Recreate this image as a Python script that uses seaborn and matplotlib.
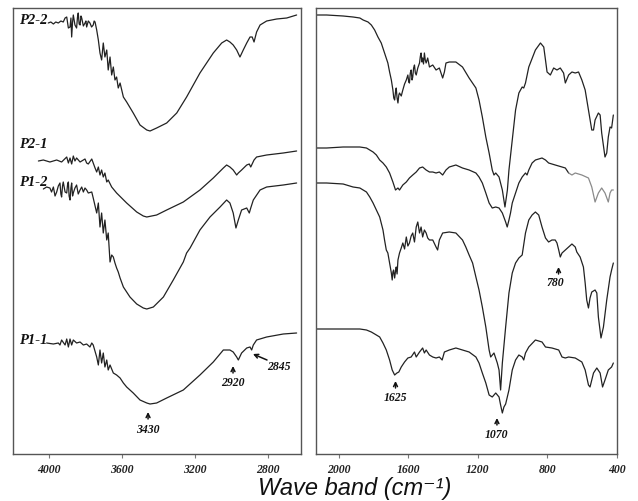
import matplotlib
matplotlib.use("Agg")
import matplotlib.pyplot as plt
import seaborn as sns
import pandas as pd

# ---------------- data (wavenumber cm-1, relative transmittance, arbitrary units) -------------
left_p22_wn = [4004, 3990, 3976, 3963, 3949, 3935, 3922, 3912, 3903, 3894, 3885, 3880, 3876, 3871, 3867,
               3858, 3849, 3844, 3840, 3835, 3830, 3825, 3821, 3812, 3803, 3798, 3794, 3785, 3776, 3767,
               3758, 3753, 3748, 3739, 3730, 3721, 3712, 3703, 3694, 3684, 3676, 3666, 3657, 3648, 3639,
               3630, 3621, 3611, 3593, 3575, 3539, 3502, 3465, 3447, 3411, 3356, 3301, 3247, 3174, 3101,
               3055, 3028, 3010, 2992, 2973, 2955, 2937, 2918, 2900, 2888, 2878, 2864, 2845, 2809, 2754,
               2699, 2645]
left_p22_t = [431, 432, 430, 432, 431, 433, 432, 436, 437, 426, 427, 436, 417, 432, 439,
              429, 426, 437, 441, 430, 429, 438, 436, 428, 431, 433, 427, 433, 431, 427,
              429, 433, 432, 424, 414, 401, 394, 411, 397, 404, 384, 397, 379, 387, 374,
              377, 366, 371, 357, 352, 341, 329, 324, 323, 326, 331, 341, 357, 381, 401,
              411, 414, 412, 409, 404, 397, 404, 411, 417, 417, 412, 422, 429, 433, 435,
              436, 439]

left_p21_wn = [4058, 4031, 3995, 3958, 3931, 3903, 3894, 3885, 3876, 3867, 3858, 3849, 3830, 3803, 3794,
               3785, 3766, 3748, 3739, 3730, 3721, 3712, 3703, 3694, 3684, 3676, 3657, 3630, 3575, 3520,
               3484, 3465, 3411, 3356, 3265, 3174, 3101, 3046, 3028, 3010, 2992, 2973, 2964, 2946, 2918,
               2904, 2896, 2878, 2864, 2809, 2718, 2645]
left_p21_t = [293, 294, 292, 294, 292, 297, 291, 296, 290, 298, 293, 296, 292, 295, 291,
              290, 295, 286, 282, 287, 279, 284, 277, 281, 272, 274, 267, 261, 251, 242,
              238, 237, 239, 244, 252, 264, 276, 286, 289, 287, 284, 279, 281, 284, 289,
              290, 287, 294, 297, 299, 301, 303]

left_p12_wn = [4031, 4013, 3995, 3986, 3976, 3967, 3958, 3949, 3940, 3935, 3931, 3926, 3922, 3912, 3903,
               3898, 3894, 3890, 3885, 3880, 3876, 3871, 3867, 3858, 3849, 3840, 3830, 3821, 3812, 3803,
               3794, 3785, 3766, 3758, 3739, 3730, 3721, 3712, 3703, 3694, 3684, 3676, 3666, 3657, 3648,
               3639, 3630, 3621, 3611, 3593, 3557, 3520, 3484, 3465, 3429, 3374, 3320, 3265, 3247, 3228,
               3174, 3119, 3064, 3028, 3010, 2992, 2977, 2964, 2946, 2918, 2904, 2896, 2882, 2845, 2809,
               2718, 2645]
left_p12_t = [265, 267, 266, 262, 267, 258, 262, 268, 271, 260, 257, 268, 272, 262, 261,
              270, 272, 258, 254, 266, 271, 258, 261, 266, 269, 260, 264, 267, 262, 266,
              264, 261, 262, 256, 241, 251, 227, 241, 221, 234, 214, 221, 192, 199, 197,
              191, 186, 182, 176, 167, 157, 150, 146, 145, 147, 157, 174, 192, 201, 206,
              224, 237, 247, 254, 251, 241, 226, 234, 244, 246, 241, 246, 254, 264, 267,
              269, 271]

left_p11_wn = [4013, 3976, 3949, 3940, 3931, 3912, 3903, 3894, 3885, 3876, 3867, 3849, 3830, 3812, 3794,
               3776, 3766, 3758, 3739, 3730, 3721, 3712, 3703, 3694, 3684, 3676, 3666, 3648, 3630, 3611,
               3593, 3575, 3539, 3502, 3465, 3447, 3411, 3356, 3265, 3174, 3101, 3046, 3010, 2992, 2973,
               2964, 2946, 2918, 2900, 2891, 2882, 2864, 2809, 2718, 2645]
left_p11_t = [111, 110, 111, 109, 114, 109, 115, 107, 115, 109, 114, 111, 112, 109, 110,
              107, 111, 109, 97, 89, 104, 91, 101, 87, 94, 84, 89, 81, 79, 76,
              71, 67, 61, 54, 51, 50, 51, 56, 64, 79, 92, 104, 104, 102, 97,
              94, 101, 106, 107, 104, 109, 114, 117, 120, 121]

right_p22_wn = [2126, 2069, 1974, 1917, 1878, 1859, 1831, 1812, 1793, 1774, 1755, 1736, 1717, 1707, 1697,
                1688, 1683, 1678, 1673, 1669, 1664, 1659, 1654, 1650, 1640, 1631, 1621, 1611, 1602, 1597,
                1593, 1588, 1583, 1578, 1574, 1569, 1564, 1559, 1554, 1545, 1535, 1530, 1526, 1521, 1517,
                1512, 1507, 1502, 1497, 1488, 1478, 1459, 1440, 1421, 1402, 1392, 1383, 1364, 1326, 1288,
                1250, 1211, 1193, 1174, 1154, 1135, 1117, 1107, 1097, 1078, 1059, 1044, 1030, 1021, 1002,
                983, 964, 945, 936, 926, 907, 869, 840, 821, 811, 802, 783, 764, 745, 726,
                707, 697, 678, 659, 640, 621, 602, 583, 564, 545, 535, 526, 507, 497, 488,
                469, 459, 450, 440, 431, 421]
right_p22_t = [439, 439, 438, 437, 436, 434, 432, 429, 424, 417, 411, 401, 391, 382, 374,
               364, 356, 354, 362, 366, 356, 351, 359, 361, 358, 364, 370, 374, 379, 372,
               371, 381, 384, 374, 377, 386, 389, 381, 379, 386, 391, 398, 401, 392, 396,
               390, 401, 394, 391, 396, 387, 389, 384, 386, 376, 382, 391, 392, 392, 387,
               376, 366, 354, 337, 317, 301, 284, 279, 281, 277, 264, 247, 264, 284, 314,
               344, 361, 367, 366, 371, 387, 404, 411, 407, 394, 382, 379, 386, 384, 386,
               381, 371, 379, 382, 381, 382, 374, 364, 344, 324, 324, 334, 341, 339, 321,
               297, 301, 317, 327, 326, 339]

right_p21_wn = [2126, 2069, 1974, 1878, 1840, 1802, 1783, 1764, 1745, 1726, 1707, 1688, 1673, 1659, 1650,
                1631, 1611, 1593, 1574, 1554, 1535, 1517, 1497, 1478, 1459, 1440, 1421, 1402, 1383, 1364,
                1326, 1288, 1250, 1211, 1193, 1174, 1154, 1135, 1117, 1097, 1078, 1059, 1040, 1031, 1021,
                1012, 1002, 983, 964, 945, 926, 917, 907, 888, 869, 831, 811, 793, 755, 716,
                697, 678]
right_p21_t = [306, 306, 307, 307, 306, 302, 299, 294, 291, 287, 281, 272, 264, 266, 264,
               269, 272, 276, 279, 282, 286, 287, 284, 282, 282, 281, 282, 279, 284, 287,
               289, 286, 284, 281, 277, 271, 261, 251, 246, 247, 246, 241, 232, 227, 234,
               241, 251, 261, 271, 277, 281, 279, 284, 291, 294, 296, 294, 291, 289, 287,
               286, 281]
# faint end of the P2-1 trace
right_p21_tail_wn = [678, 659, 640, 602, 564, 545, 526, 507, 488, 469, 450, 440, 431, 421]
right_p21_tail_t = [281, 279, 281, 279, 276, 267, 252, 261, 266, 261, 252, 261, 264, 264]

right_p12_wn = [2126, 2069, 1974, 1917, 1878, 1840, 1821, 1802, 1783, 1764, 1745, 1736, 1726, 1717, 1712,
                1707, 1702, 1697, 1692, 1688, 1684, 1678, 1673, 1669, 1664, 1659, 1650, 1640, 1631, 1621,
                1611, 1602, 1593, 1583, 1574, 1564, 1554, 1545, 1535, 1526, 1517, 1507, 1497, 1488, 1478,
                1459, 1440, 1431, 1421, 1402, 1364, 1326, 1288, 1269, 1250, 1230, 1211, 1193, 1174, 1154,
                1135, 1126, 1107, 1088, 1078, 1069, 1059, 1040, 1021, 1002, 983, 964, 945, 926, 907,
                888, 869, 850, 831, 811, 793, 774, 755, 745, 735, 726, 716, 697, 678, 659,
                640, 631, 612, 593, 583, 574, 564, 555, 545, 526, 516, 507, 492, 478, 459,
                440, 431, 421]
right_p12_t = [271, 271, 270, 267, 266, 262, 257, 251, 244, 237, 224, 214, 204, 201, 196,
               191, 186, 181, 174, 182, 184, 176, 183, 187, 180, 194, 201, 206, 211, 205,
               217, 208, 211, 218, 221, 212, 227, 232, 221, 227, 217, 224, 221, 216, 214,
               214, 207, 204, 214, 221, 222, 221, 214, 207, 199, 191, 177, 164, 147, 127,
               104, 97, 101, 91, 84, 64, 91, 127, 161, 181, 191, 196, 199, 221, 234,
               239, 242, 239, 227, 216, 212, 214, 214, 211, 204, 197, 201, 204, 207, 210,
               207, 202, 197, 187, 171, 154, 146, 156, 162, 164, 161, 137, 116, 127, 154,
               177, 184, 191]

right_p11_wn = [2126, 2069, 1974, 1917, 1878, 1840, 1812, 1783, 1764, 1745, 1726, 1707, 1692, 1678, 1665,
                1654, 1640, 1621, 1602, 1583, 1564, 1554, 1535, 1517, 1507, 1497, 1478, 1459, 1440, 1421,
                1405, 1392, 1364, 1326, 1288, 1250, 1211, 1193, 1174, 1154, 1135, 1117, 1097, 1078, 1069,
                1059, 1050, 1040, 1021, 1002, 983, 964, 945, 936, 926, 907, 869, 831, 811, 774,
                735, 716, 697, 678, 640, 602, 583, 564, 555, 535, 516, 497, 483, 469, 450,
                431, 421]
right_p11_t = [125, 125, 125, 125, 125, 124, 122, 119, 117, 111, 104, 94, 84, 79, 81,
               82, 87, 92, 96, 97, 102, 97, 102, 106, 101, 104, 99, 97, 96, 97,
               94, 102, 104, 106, 104, 102, 97, 91, 81, 71, 59, 57, 61, 57, 49,
               41, 47, 50, 64, 84, 94, 99, 97, 94, 101, 107, 114, 112, 107, 106,
               104, 97, 96, 97, 96, 92, 84, 69, 67, 81, 86, 81, 67, 74, 84,
               87, 91]

sample_names = ["P2-2", "P2-1", "P1-2", "P1-1"]
sample_label_t = [433, 309, 272, 114]

left_ticks = [4000, 3600, 3200, 2800]
right_ticks = [2000, 1600, 1200, 800, 400]

left_peaks = ["3430", "2920", "2845"]
right_peaks = ["1625", "1070", "780"]

# ---------------- style -------------
sns.set_theme(style="white")
plt.rcParams["font.family"] = ["Liberation Serif", "DejaVu Serif"]

W, H = 638, 501
fig = plt.figure(figsize=(W / 100, H / 100), dpi=100)
fig.patch.set_facecolor("white")

ax_l = fig.add_axes([13 / W, (H - 454) / H, 288 / W, 446 / H])
ax_r = fig.add_axes([316 / W, (H - 454) / H, 301 / W, 446 / H])

line_kw = dict(linewidth=0.9, sort=False, estimator=None, legend=False)

def draw(ax, wn, t, color="#222222"):
    df = pd.DataFrame({"wn": wn, "t": t})
    sns.lineplot(data=df, x="wn", y="t", ax=ax, color=color, **line_kw)

draw(ax_l, left_p22_wn, left_p22_t)
draw(ax_l, left_p21_wn, left_p21_t)
draw(ax_l, left_p12_wn, left_p12_t)
draw(ax_l, left_p11_wn, left_p11_t)
draw(ax_r, right_p22_wn, right_p22_t)
draw(ax_r, right_p21_wn, right_p21_t)
draw(ax_r, right_p21_tail_wn, right_p21_tail_t, color="#8a8a8a")
draw(ax_r, right_p12_wn, right_p12_t)
draw(ax_r, right_p11_wn, right_p11_t)

ax_l.set_xlim(4197, 2621)
ax_r.set_xlim(2130, 400)
for ax, ticks in ((ax_l, left_ticks), (ax_r, right_ticks)):
    ax.set_ylim(0, 446)
    ax.set_xticks(ticks)
    ax.set_xticklabels([str(v) for v in ticks], fontsize=8.5, fontweight="bold",
                       fontstyle="italic", color="#222222")
    ax.set_yticks([])
    ax.set_xlabel("")
    ax.set_ylabel("")
    ax.tick_params(axis="x", direction="out", length=3, width=0.8, color="#777777",
                   pad=4.5, bottom=True)
    for s in ax.spines.values():
        s.set_visible(True)
        s.set_color("#555555")
        s.set_linewidth(1.0)

# sample labels
for name, yv in zip(sample_names, sample_label_t):
    ax_l.text(4164, yv, name, fontsize=10.5, fontweight="bold", fontstyle="italic",
              ha="left", va="center", color="#111111")

arrow_kw = dict(arrowstyle="->", lw=1.1, color="#111111", shrinkA=0, shrinkB=0,
                mutation_scale=7)
txt_kw = dict(fontsize=8.5, fontweight="bold", fontstyle="italic", ha="center",
              va="center", color="#111111")

ax_l.annotate("", xy=(3458, 42), xytext=(3458, 35), arrowprops=arrow_kw)
ax_l.text(3458, 24, left_peaks[0], **txt_kw)
ax_l.annotate("", xy=(2993, 88), xytext=(2993, 81), arrowprops=arrow_kw)
ax_l.text(2993, 71, left_peaks[1], **txt_kw)
ax_l.annotate("", xy=(2884, 100), xytext=(2807, 94), arrowprops=arrow_kw)
ax_l.text(2741, 87, left_peaks[2], **txt_kw)

ax_r.annotate("", xy=(1673, 73), xytext=(1673, 66), arrowprops=arrow_kw)
ax_r.text(1673, 56, right_peaks[0], **txt_kw)
ax_r.annotate("", xy=(1090, 36), xytext=(1090, 29), arrowprops=arrow_kw)
ax_r.text(1090, 19, right_peaks[1], **txt_kw)
ax_r.annotate("", xy=(736, 187), xytext=(736, 180), arrowprops=arrow_kw)
ax_r.text(753, 171, right_peaks[2], **txt_kw)

fig.text(355 / W, (H - 488) / H, "Wave band (cm\u207b\u00b9)", fontsize=17,
         family=["Liberation Sans", "DejaVu Sans"], style="italic", ha="center",
         va="center", color="#111111")

fig.savefig("out.png", dpi=100, facecolor="white")
